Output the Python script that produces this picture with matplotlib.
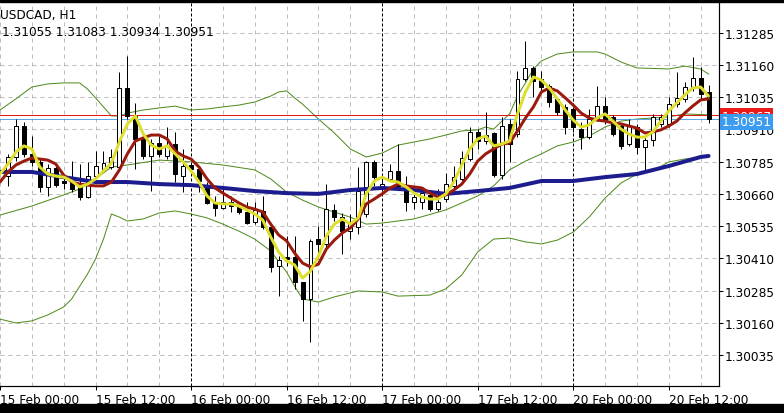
import numpy as np
import matplotlib
matplotlib.use("Agg")
import matplotlib.pyplot as plt
from matplotlib.patches import Rectangle

plt.rcParams['font.family'] = ['DejaVu Sans']

# USDCAD H1 candles, bar 0 = 15 Feb 00:00
bar_idx = np.arange(1, 90)
opens = [1.30729, 1.30803, 1.30923, 1.30815, 1.30784, 1.30687, 1.30760, 1.30710, 1.30706, 1.30691,
         1.30648, 1.30729, 1.30756, 1.30764, 1.30764, 1.31070, 1.30962, 1.30873, 1.30807, 1.30857,
         1.30807, 1.30853, 1.30729, 1.30772, 1.30756, 1.30687, 1.30625, 1.30605, 1.30629, 1.30613,
         1.30590, 1.30551, 1.30594, 1.30532, 1.30381, 1.30416, 1.30416, 1.30319, 1.30253, 1.30485,
         1.30466, 1.30598, 1.30570, 1.30516, 1.30532, 1.30582, 1.30784, 1.30687, 1.30718, 1.30749,
         1.30691, 1.30629, 1.30629, 1.30656, 1.30601, 1.30640, 1.30691, 1.30718, 1.30795, 1.30900,
         1.30865, 1.30896, 1.30733, 1.30931, 1.30892, 1.31105, 1.31148, 1.31105, 1.31078, 1.31028,
         1.30997, 1.30989, 1.30911, 1.30880, 1.30950, 1.31000, 1.30958, 1.30923, 1.30853, 1.30919,
         1.30842, 1.30869, 1.30931, 1.30931, 1.31008, 1.31028, 1.31070, 1.31109, 1.31055]
closes = [1.30803, 1.30923, 1.30815, 1.30784, 1.30687, 1.30760, 1.30694, 1.30702, 1.30679, 1.30648,
          1.30729, 1.30768, 1.30780, 1.30803, 1.31070, 1.30962, 1.30873, 1.30807, 1.30857, 1.30815,
          1.30846, 1.30737, 1.30768, 1.30756, 1.30710, 1.30625, 1.30605, 1.30629, 1.30613, 1.30590,
          1.30547, 1.30598, 1.30532, 1.30377, 1.30404, 1.30408, 1.30319, 1.30253, 1.30478, 1.30466,
          1.30601, 1.30570, 1.30516, 1.30543, 1.30671, 1.30784, 1.30725, 1.30698, 1.30749, 1.30691,
          1.30629, 1.30648, 1.30663, 1.30601, 1.30629, 1.30698, 1.30725, 1.30799, 1.30900, 1.30865,
          1.30888, 1.30733, 1.30923, 1.30853, 1.31105, 1.31148, 1.31097, 1.31074, 1.31016, 1.30977,
          1.30919, 1.30919, 1.30880, 1.30950, 1.31000, 1.30942, 1.30892, 1.30846, 1.30923, 1.30842,
          1.30869, 1.30958, 1.30958, 1.31008, 1.31032, 1.31074, 1.31109, 1.31047, 1.30951]
highs = [1.30815, 1.30950, 1.30939, 1.30884, 1.30795, 1.30776, 1.30772, 1.30729, 1.30787, 1.30776,
         1.30784, 1.30826, 1.30826, 1.30834, 1.31132, 1.31194, 1.31012, 1.30892, 1.30873, 1.30884,
         1.30919, 1.30900, 1.30834, 1.30784, 1.30764, 1.30706, 1.30652, 1.30679, 1.30652, 1.30629,
         1.30629, 1.30629, 1.30652, 1.30536, 1.30419, 1.30497, 1.30497, 1.30319, 1.30485, 1.30536,
         1.30698, 1.30621, 1.30586, 1.30582, 1.30764, 1.30787, 1.30791, 1.30718, 1.30776, 1.30853,
         1.30729, 1.30667, 1.30679, 1.30667, 1.30679, 1.30741, 1.30768, 1.30826, 1.30919, 1.30911,
         1.30977, 1.30900, 1.30958, 1.30950, 1.31136, 1.31252, 1.31155, 1.31136, 1.31086, 1.31035,
         1.31008, 1.30997, 1.30939, 1.30989, 1.31078, 1.31035, 1.30966, 1.30931, 1.30950, 1.30931,
         1.30888, 1.30970, 1.30970, 1.31035, 1.31132, 1.31093, 1.31190, 1.31152, 1.31083]
lows = [1.30691, 1.30787, 1.30803, 1.30768, 1.30667, 1.30652, 1.30687, 1.30679, 1.30667, 1.30636,
        1.30644, 1.30725, 1.30749, 1.30756, 1.30756, 1.30950, 1.30756, 1.30795, 1.30671, 1.30803,
        1.30795, 1.30706, 1.30667, 1.30749, 1.30667, 1.30621, 1.30574, 1.30601, 1.30590, 1.30582,
        1.30543, 1.30543, 1.30524, 1.30357, 1.30264, 1.30381, 1.30292, 1.30168, 1.30086, 1.30408,
        1.30447, 1.30555, 1.30427, 1.30485, 1.30505, 1.30570, 1.30691, 1.30671, 1.30710, 1.30679,
        1.30594, 1.30601, 1.30601, 1.30594, 1.30594, 1.30629, 1.30679, 1.30710, 1.30787, 1.30834,
        1.30853, 1.30725, 1.30718, 1.30784, 1.30880, 1.31097, 1.31035, 1.31059, 1.30997, 1.30966,
        1.30892, 1.30900, 1.30834, 1.30873, 1.30942, 1.30931, 1.30884, 1.30834, 1.30846, 1.30815,
        1.30745, 1.30846, 1.30919, 1.30919, 1.30997, 1.31016, 1.31059, 1.31028, 1.30934]

# fast MA (yellow) and slow MA (dark red), bars 0..89
ma_idx = np.arange(0, 90)
ma_fast = [1.30737, 1.30776, 1.30822, 1.30846, 1.30834, 1.30764, 1.30737, 1.30729, 1.30725, 1.30710,
           1.30687, 1.30698, 1.30718, 1.30749, 1.30780, 1.30861, 1.30931, 1.30962, 1.30892, 1.30849,
           1.30834, 1.30846, 1.30815, 1.30784, 1.30749, 1.30706, 1.30652, 1.30625, 1.30621, 1.30621,
           1.30613, 1.30598, 1.30582, 1.30559, 1.30493, 1.30435, 1.30400, 1.30385, 1.30334, 1.30361,
           1.30419, 1.30497, 1.30543, 1.30563, 1.30543, 1.30567, 1.30660, 1.30710, 1.30725, 1.30710,
           1.30706, 1.30687, 1.30663, 1.30648, 1.30640, 1.30640, 1.30660, 1.30706, 1.30772, 1.30834,
           1.30873, 1.30884, 1.30846, 1.30853, 1.30865, 1.30970, 1.31055, 1.31113, 1.31101, 1.31070,
           1.31028, 1.30985, 1.30946, 1.30919, 1.30927, 1.30954, 1.30970, 1.30942, 1.30911, 1.30892,
           1.30880, 1.30880, 1.30900, 1.30942, 1.30981, 1.31012, 1.31043, 1.31070, 1.31074, 1.31039]
ma_slow = [1.30706, 1.30745, 1.30772, 1.30787, 1.30799, 1.30795, 1.30791, 1.30776, 1.30733, 1.30706,
           1.30698, 1.30694, 1.30691, 1.30691, 1.30706, 1.30753, 1.30815, 1.30865, 1.30877, 1.30888,
           1.30888, 1.30873, 1.30826, 1.30807, 1.30795, 1.30764, 1.30718, 1.30683, 1.30663, 1.30644,
           1.30625, 1.30609, 1.30601, 1.30590, 1.30543, 1.30501, 1.30478, 1.30431, 1.30392, 1.30377,
           1.30388, 1.30447, 1.30481, 1.30509, 1.30528, 1.30563, 1.30621, 1.30640, 1.30660, 1.30683,
           1.30698, 1.30691, 1.30687, 1.30683, 1.30663, 1.30648, 1.30656, 1.30675, 1.30698, 1.30737,
           1.30787, 1.30815, 1.30834, 1.30853, 1.30857, 1.30904, 1.30954, 1.30997, 1.31055, 1.31070,
           1.31059, 1.31032, 1.31004, 1.30973, 1.30954, 1.30946, 1.30942, 1.30935, 1.30931, 1.30923,
           1.30915, 1.30896, 1.30900, 1.30908, 1.30923, 1.30942, 1.30973, 1.31000, 1.31024, 1.31028]

# long MA (blue)
ma_long_idx = [0, 4, 8, 12, 16, 20, 24, 28, 32, 36, 40, 44, 48, 52, 56, 60, 64, 68, 72, 76, 80, 84, 88, 89]
ma_long = [1.30745, 1.30745, 1.30725, 1.30706, 1.30706, 1.30698, 1.30694, 1.30683, 1.30671, 1.30663,
           1.30660, 1.30675, 1.30683, 1.30675, 1.30660, 1.30671, 1.30683, 1.30710, 1.30710, 1.30725,
           1.30737, 1.30768, 1.30803, 1.30807]

# Bollinger bands
bb_up_idx = [0, 2, 4, 6, 8, 10, 11, 12, 13, 14, 15, 16, 18, 20, 22, 24, 26, 28, 30, 32, 34, 35, 36, 37,
             38, 40, 42, 44, 46, 48, 50, 52, 54, 56, 58, 60, 61, 62, 64, 65, 66, 67, 68, 70, 72, 75, 76,
             78, 80, 84, 86, 88, 89]
bb_up = [1.30985, 1.31028, 1.31074, 1.31086, 1.31090, 1.31090, 1.31066, 1.31032, 1.30997, 1.30962,
         1.30962, 1.30973, 1.30985, 1.30993, 1.31000, 1.30985, 1.30989, 1.30997, 1.31004, 1.31016,
         1.31039, 1.31055, 1.31059, 1.31032, 1.31008, 1.30950, 1.30896, 1.30834, 1.30803, 1.30818,
         1.30849, 1.30861, 1.30873, 1.30888, 1.30904, 1.30908, 1.30919, 1.30911, 1.30970, 1.31039,
         1.31090, 1.31144, 1.31175, 1.31202, 1.31210, 1.31210, 1.31202, 1.31171, 1.31148, 1.31144,
         1.31155, 1.31144, 1.31124]
bb_mid_idx = [0, 4, 8, 10, 12, 14, 16, 20, 24, 28, 32, 34, 36, 38, 40, 44, 46, 48, 52, 56, 60, 62, 64,
              66, 68, 70, 72, 74, 76, 78, 80, 84, 86, 89]
bb_mid = [1.30578, 1.30613, 1.30656, 1.30679, 1.30718, 1.30764, 1.30772, 1.30791, 1.30784, 1.30772,
          1.30753, 1.30718, 1.30667, 1.30636, 1.30609, 1.30570, 1.30543, 1.30547, 1.30563, 1.30598,
          1.30652, 1.30691, 1.30753, 1.30787, 1.30815, 1.30846, 1.30861, 1.30884, 1.30919, 1.30942,
          1.30950, 1.30958, 1.30970, 1.30966]
bb_low_idx = [0, 2, 4, 6, 8, 9, 11, 12, 13, 14, 15, 16, 18, 20, 22, 24, 26, 28, 30, 32, 34, 36, 37, 38,
              40, 42, 45, 48, 50, 54, 56, 58, 60, 62, 64, 66, 68, 70, 72, 74, 76, 78, 80, 82, 84, 86, 89]
bb_low = [1.30175, 1.30160, 1.30168, 1.30191, 1.30222, 1.30253, 1.30350, 1.30408, 1.30485, 1.30582,
          1.30570, 1.30555, 1.30563, 1.30586, 1.30594, 1.30582, 1.30567, 1.30543, 1.30516, 1.30485,
          1.30439, 1.30357, 1.30303, 1.30253, 1.30241, 1.30261, 1.30284, 1.30280, 1.30264, 1.30268,
          1.30292, 1.30346, 1.30435, 1.30485, 1.30489, 1.30474, 1.30466, 1.30481, 1.30512, 1.30570,
          1.30644, 1.30702, 1.30737, 1.30749, 1.30784, 1.30795, 1.30807]

ask_price = 1.30967
bid_price = 1.30951
price_ticks = [1.30035, 1.30160, 1.30285, 1.30410, 1.30535, 1.30660, 1.30785, 1.30910, 1.31035,
               1.31160, 1.31285]
time_tick_idx = [0, 12, 24, 36, 48, 60, 72, 84]
time_tick_labels = ['15 Feb 00:00', '15 Feb 12:00', '16 Feb 00:00', '16 Feb 12:00',
                    '17 Feb 00:00', '17 Feb 12:00', '20 Feb 00:00', '20 Feb 12:00']
day_breaks = [24, 48, 72]

W, H = 784, 414
fig = plt.figure(figsize=(W / 100, H / 100), dpi=100)
fig.patch.set_facecolor('white')
ax = fig.add_axes([0, (H - 387) / H, 719 / W, 384 / H])
ax.set_facecolor('white')

px = 72 / 100  # one pixel in points

ax.set_xlim(0.44, 90.31)
ax.set_ylim(1.299158, 1.314034)

# grid
for k in range(0, 92, 4):
    if k in day_breaks:
        ax.axvline(k, color='black', lw=px, ls=(0, (3, 2)), zorder=1)
    else:
        ax.axvline(k, color='#bdbdbd', lw=px, ls=(0, (4, 4)), zorder=0.5)
for p in price_ticks:
    ax.axhline(p, color='#bdbdbd', lw=px, ls=(0, (4, 4)), zorder=0.5)

# bollinger bands
bb_col = '#4f8a1c'
ax.plot(bb_up_idx, bb_up, color=bb_col, lw=px, zorder=2)
ax.plot(bb_mid_idx, bb_mid, color=bb_col, lw=px, zorder=2)
ax.plot(bb_low_idx, bb_low, color=bb_col, lw=px, zorder=2)

# ask / bid lines
ax.axhline(ask_price, color='#e01818', lw=px, zorder=2.2)
ax.axhline(bid_price, color='#5aa8e6', lw=px, zorder=2.2)

# candles
o = np.array(opens)
c = np.array(closes)
ax.vlines(bar_idx, lows, highs, color='black', lw=px, zorder=3)
up = c >= o
ax.bar(bar_idx[up], (c - o)[up], bottom=o[up], width=0.5, color='white',
       edgecolor='black', linewidth=px, zorder=3.5)
ax.bar(bar_idx[~up], (o - c)[~up], bottom=c[~up], width=0.5, color='black',
       edgecolor='black', linewidth=px, zorder=3.5)

# moving averages
ax.plot(ma_long_idx, ma_long, color='#1c1c8e', lw=4 * px, zorder=4, solid_capstyle='round')
ax.plot(ma_idx, ma_slow, color='#9a1a0e', lw=3 * px, zorder=4.2, solid_capstyle='round')
ax.plot(ma_idx, ma_fast, color='#dede2c', lw=3 * px, zorder=4.4, solid_capstyle='round')

# axes frame
for s in ['left', 'top']:
    ax.spines[s].set_visible(False)
for s in ['right', 'bottom']:
    ax.spines[s].set_color('black')
    ax.spines[s].set_linewidth(1.2 * px)

ax.yaxis.tick_right()
ax.set_yticks(price_ticks)
ax.set_yticklabels(['%.5f' % p for p in price_ticks])
ax.tick_params(axis='y', length=4 * px, width=px, pad=1, labelsize=8.7, colors='black')

ax.set_xticks(time_tick_idx)
ax.set_xticklabels(time_tick_labels)
ax.tick_params(axis='x', length=4 * px, width=px, pad=2, labelsize=8.7, colors='black')
for lab in ax.get_xticklabels():
    lab.set_horizontalalignment('left')

# price boxes on the scale (bid box sits on top of the ask box, as in the terminal)
tr = ax.get_yaxis_transform()
ax.text(1.0035, ask_price - 0.00006, '%.5f' % ask_price, transform=tr, color='white', fontsize=8.7,
        va='center', ha='left', clip_on=False, zorder=6,
        bbox=dict(boxstyle='square,pad=0.1', fc='#ec1a1a', ec='none'))
ax.text(1.0035, bid_price - 0.00012, '%.5f' % bid_price, transform=tr, color='white', fontsize=8.7,
        va='center', ha='left', clip_on=False, zorder=7,
        bbox=dict(boxstyle='square,pad=0.1', fc='#3c9df0', ec='none'))

# header
fig.text(0 / W, 1 - 15 / H, 'USDCAD, H1', fontsize=8.7, color='black', va='center', ha='left')
fig.text(2 / W, 1 - 32.5 / H, '%.5f %.5f %.5f %.5f' % (opens[-1], highs[-1], lows[-1], closes[-1]),
         fontsize=8.7, color='black', va='center', ha='left')

# black strips top and bottom
fig.patches.append(Rectangle((0, 1 - 3 / H), 1, 3 / H, transform=fig.transFigure,
                             color='black', zorder=10))
fig.patches.append(Rectangle((0, 0), 1, 9 / H, transform=fig.transFigure,
                             color='black', zorder=10))

fig.savefig('out.png', dpi=100)
